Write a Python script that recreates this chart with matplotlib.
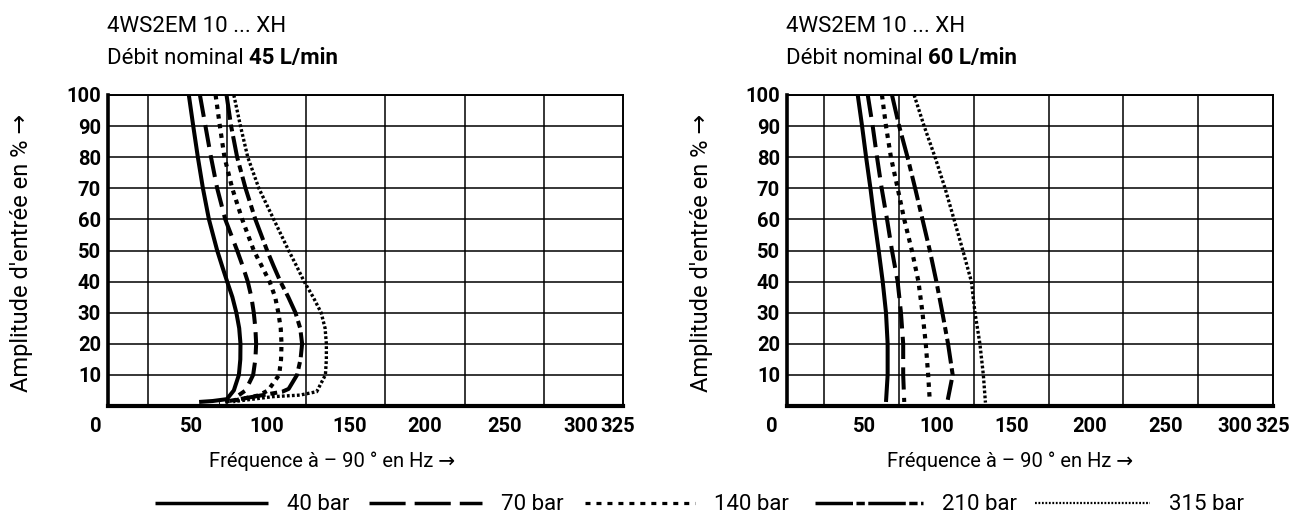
import matplotlib
matplotlib.use("Agg")
import matplotlib.pyplot as plt
import matplotlib.transforms as mtransforms
from matplotlib.lines import Line2D

plt.rcParams['font.family'] = ['Roboto', 'DejaVu Sans']
plt.rcParams['lines.scale_dashes'] = False

# ---------------- data ----------------
pressures = ["40 bar", "70 bar", "140 bar", "210 bar", "315 bar"]
x_ticks = [0, 50, 100, 150, 200, 250, 300, 325]
y_ticks = [10, 20, 30, 40, 50, 60, 70, 80, 90, 100]

# nominal flow 45 L/min : frequency (Hz) at -90 deg vs input amplitude (%)
f45_40 = [51, 53.8, 56.7, 59.9, 63.7, 68.9, 72, 75.2, 78.5, 81, 82.8, 83.6, 83.5,
          82.6, 79.4, 75, 66, 57.5]
a45_40 = [100, 90, 80, 70, 60, 50, 45, 40, 35, 30, 25, 20, 15,
          10, 5, 2.2, 1.6, 1.3]
f45_70 = [58, 61.5, 65, 68.9, 74, 81.5, 85, 88.2, 90.5, 92, 93, 93.5, 93,
          91.6, 86.8, 82.6]
a45_70 = [100, 90, 80, 70, 60, 50, 45, 40, 35, 30, 25, 20, 15,
          10, 5, 3.5]
f45_140 = [67.9, 70.6, 73.5, 78.4, 84.7, 92, 97, 102, 105.5, 107.5, 109, 109.5, 109.2,
           108, 101, 95, 80, 70]
a45_140 = [100, 90, 80, 70, 60, 50, 45, 40, 35, 30, 25, 20, 15,
           10, 5, 3.4, 1.8, 1.2]
f45_210 = [74.8, 77.7, 81.5, 86.8, 93, 100.4, 104.5, 108.8, 113.8, 118.3, 121.3, 122.5, 121.5,
           119.3, 114, 110, 74]
a45_210 = [100, 90, 80, 70, 60, 50, 45, 40, 35, 30, 25, 20, 15,
           10, 5.5, 4.6, 1.4]
f45_315 = [79.4, 83.6, 88.2, 95.2, 104.6, 114, 119, 123.8, 129.5, 134.5, 137, 137.8, 137.8,
           137.2, 131.7, 121, 104, 79]
a45_315 = [100, 90, 80, 70, 60, 50, 45, 40, 35, 30, 25, 20, 15,
           10, 4.6, 3.5, 3.0, 1.4]

# nominal flow 60 L/min
f60_40 = [47.3, 50.2, 52.9, 55.8, 58.4, 61.3, 64, 66.2, 67.3, 67.3, 66.2]
a60_40 = [100, 90, 80, 70, 60, 50, 40, 30, 20, 10, 1.3]
f60_70 = [54, 57.3, 60.2, 63.3, 66.9, 70.2, 74, 76.2, 77.7, 77.7, 78.4]
a60_70 = [100, 90, 80, 70, 60, 50, 40, 30, 20, 10, 1.3]
f60_140 = [63.5, 66.2, 69.5, 74, 78.4, 83.5, 87.9, 90.6, 92.8, 94.4, 95.5]
a60_140 = [100, 90, 80, 70, 60, 50, 40, 30, 20, 10, 1.5]
f60_210 = [70.2, 75, 80.6, 85.7, 90.6, 95.5, 99.9, 103.9, 107.7, 110.8, 107.5]
a60_210 = [100, 90, 80, 70, 60, 50, 40, 30, 20, 10, 2.0]
f60_315 = [85, 91.7, 99, 105.7, 111.7, 117.6, 123.3, 125.7, 129, 131.3, 132.7]
a60_315 = [100, 90, 80, 70, 60, 50, 40, 30, 20, 10, 1.1]

charts = [
    ("45 L/min", [(f45_40, a45_40), (f45_70, a45_70), (f45_140, a45_140),
                  (f45_210, a45_210), (f45_315, a45_315)]),
    ("60 L/min", [(f60_40, a60_40), (f60_70, a60_70), (f60_140, a60_140),
                  (f60_210, a60_210), (f60_315, a60_315)]),
]

# line styles per pressure: (linewidth, dash pattern in points or None)
styles = [
    (2.9, None),
    (2.9, (16, 6)),
    (3.0, (3.2, 3.8)),
    (2.9, (18, 3.5, 5, 3.5)),
    (2.4, (2.0, 1.6)),
]
legend_styles = [
    (2.5, None),
    (2.5, (26, 6.5)),
    (2.3, (3.6, 4.3)),
    (2.5, (27, 2.5, 6, 2.5)),
    (1.6, (1.3, 1.2)),
]

# ---------------- figure ----------------
W, H = 1290, 517
fig = plt.figure(figsize=(W / 100, H / 100), dpi=100)

def fx(px):
    return px / W

def fy(py):
    return 1 - py / H

axes_px = [(108, 623), (787, 1273)]
top_px, bot_px = 95, 406
tick_shift = [{0: -12, 50: 4, 150: 4, 300: -3, 325: -5},
              {0: -15, 50: 3, 200: 4, 250: 5, 300: -1, 325: 0}]
xlabel_center = [332, 1010]
TXT = 16
TICK = 14.5

renderer = fig.canvas.get_renderer()

for ci, ((flow, series), (x0, x1)) in enumerate(zip(charts, axes_px)):
    ax = fig.add_axes([fx(x0), fy(bot_px), fx(x1 - x0), (bot_px - top_px) / H])
    ax.set_xlim(0, 325)
    ax.set_ylim(0, 100)

    for (f, a), (lw, dash) in zip(series, styles):
        ln, = ax.plot(f, a, color='black', lw=lw, solid_capstyle='butt',
                      dash_capstyle='butt', solid_joinstyle='round')
        if dash is not None:
            ln.set_dashes(dash)

    ax.set_xticks(x_ticks)
    ax.set_xticks(range(0, 326, 25), minor=True)
    ax.set_xticklabels([str(t) for t in x_ticks], fontsize=TICK, fontweight='bold')
    ax.set_yticks(y_ticks)
    ax.set_yticklabels([str(t) for t in y_ticks], fontsize=TICK, fontweight='bold')
    ax.tick_params(which='both', length=0)
    ax.tick_params(axis='x', pad=8)
    ax.tick_params(axis='y', pad=5)
    ax.grid(False)
    ax.grid(True, axis='x', which='minor', color='black', lw=1.1)
    ax.grid(True, axis='y', which='major', color='black', lw=1.1)
    ax.set_axisbelow(True)

    ax.spines['left'].set_linewidth(2.6)
    ax.spines['bottom'].set_linewidth(3.0)
    ax.spines['top'].set_linewidth(1.4)
    ax.spines['right'].set_linewidth(1.4)

    for lab, t in zip(ax.get_xticklabels(), x_ticks):
        dx = tick_shift[ci].get(t, 0)
        if dx:
            lab.set_transform(lab.get_transform() +
                              mtransforms.ScaledTranslation(dx / 100, 0, fig.dpi_scale_trans))

    # titles
    fig.text(fx(x0 - 1), fy(27), "4WS2EM 10 ... XH", fontsize=TXT, va='center', ha='left')
    t1 = fig.text(fx(x0 - 1), fy(58), "Débit nominal ", fontsize=TXT, va='center', ha='left')
    bb = t1.get_window_extent(renderer=renderer)
    fig.text(bb.x1 / W, fy(58), flow, fontsize=TXT, fontweight='bold', va='center', ha='left')

    # axis labels
    fig.text(fx(x0 - 86), fy(253), "Amplitude d'entrée en % →", fontsize=17,
             rotation=90, va='center', ha='center')
    fig.text(fx(xlabel_center[ci]), fy(461), "Fréquence à – 90 ° en Hz →", fontsize=14.5,
             va='center', ha='center')

# ---------------- legend ----------------
leg_x = [155, 369, 585, 815, 1035]
leg_len = [113, 113, 110, 108, 115]
leg_y = 503
for name, x, L, (lw, dash) in zip(pressures, leg_x, leg_len, legend_styles):
    ln = Line2D([fx(x), fx(x + L)], [fy(leg_y), fy(leg_y)], transform=fig.transFigure,
                color='black', lw=lw, solid_capstyle='butt', dash_capstyle='butt')
    if dash is not None:
        ln.set_dashes(dash)
    fig.add_artist(ln)
    fig.text(fx(x + L + 19), fy(leg_y + 1), name, fontsize=TXT, va='center', ha='left')

fig.savefig("out.png", dpi=100)
